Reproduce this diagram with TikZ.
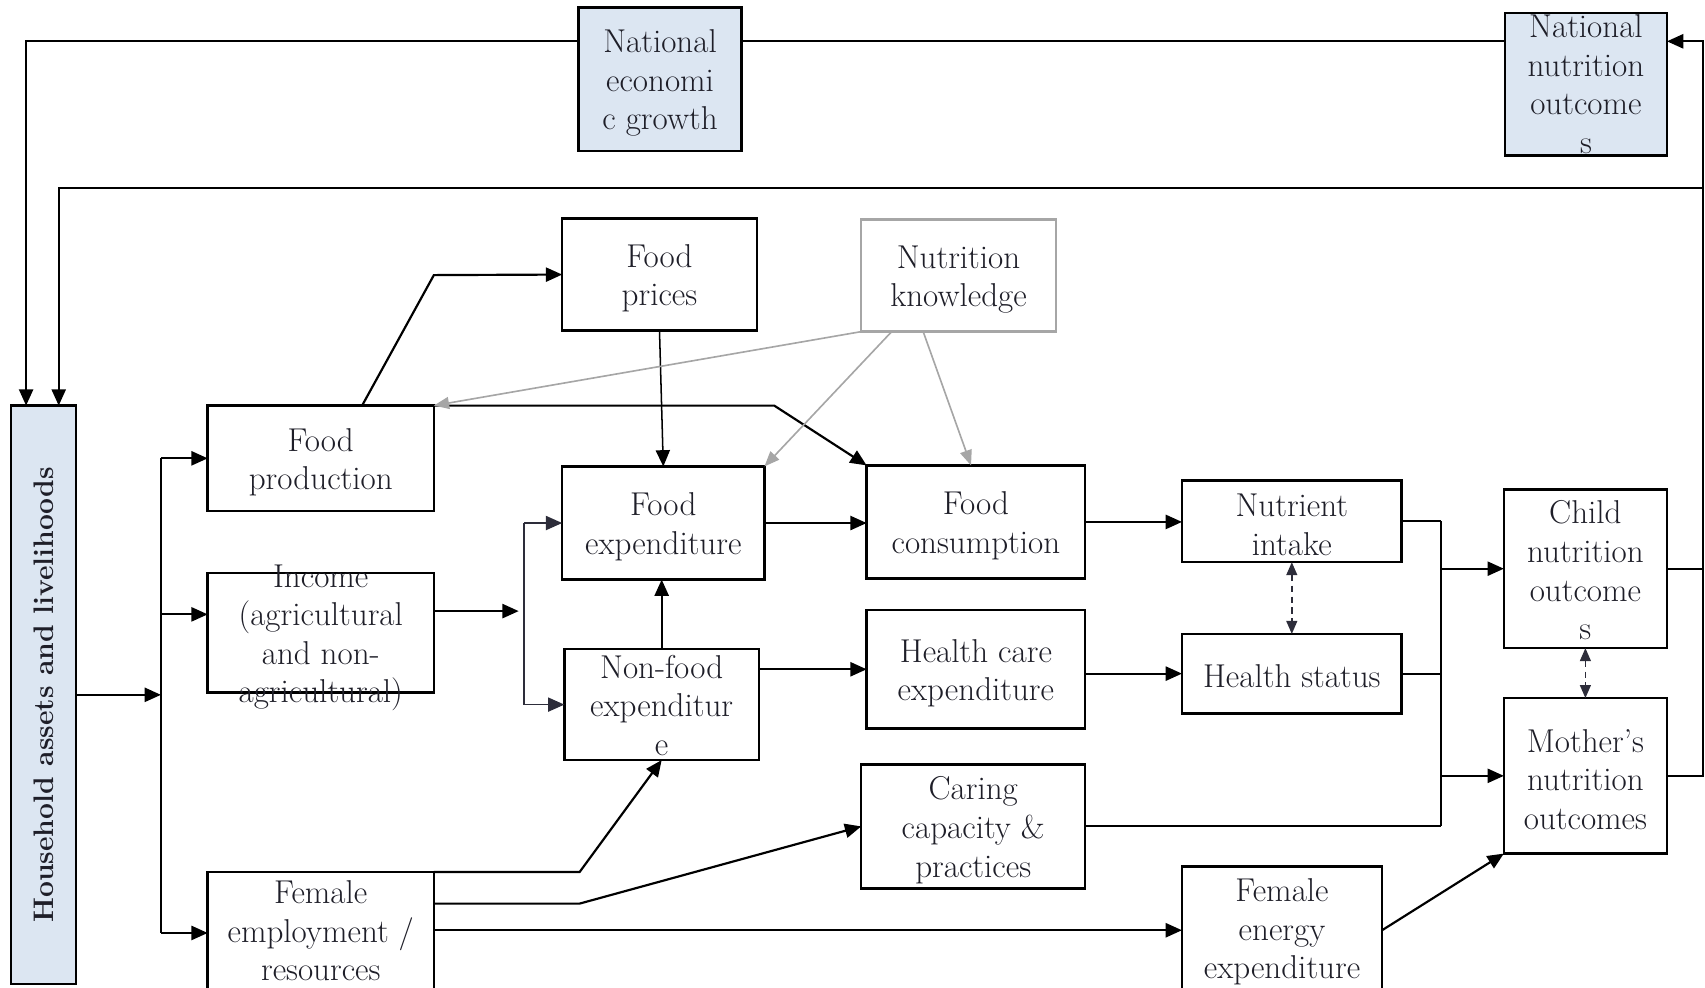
\documentclass[tikz,border=0pt]{standalone}
\usetikzlibrary{arrows.meta,calc}
\definecolor{boxblue}{RGB}{220,230,242}
\definecolor{kgray}{RGB}{166,166,166}
\definecolor{busc}{RGB}{45,45,58}
\definecolor{txtc}{RGB}{30,30,40}
% \BX[style]{name}{x1}{y1}{x2}{y2}{text offset}{text}
\newcommand\BX[8][]{%
  \node[box,#1,minimum width={(#5-#3)*0.02cm},minimum height={(#6-#4)*0.02cm}] (#2) at ({(#3+#5)/2},{(#4+#6)/2}) {};
  \node[txt] (#2-t) at ({(#3+#5)/2},{(#4+#6)/2+(#7)}) {#8};}
\begin{document}
\begin{tikzpicture}[x=0.02cm,y=-0.02cm,
  box/.style={draw,line width=0.045cm,inner sep=0pt,outer sep=0pt},
  bluebox/.style={fill=boxblue},
  graybox/.style={draw=kgray},
  txt/.style={align=center,inner sep=0pt,text=txtc,font=\fontsize{17.3}{20.2}\selectfont},
  ln/.style={line width=0.04cm},
  arr/.style={ln,-{Triangle[length=0.3cm,width=0.26cm]}},
  thinarr/.style={line width=0.028cm,-{Triangle[length=0.3cm,width=0.26cm]}},
  garr/.style={line width=0.03cm,draw=kgray,-{Triangle[length=0.28cm,width=0.22cm]}},
  bus/.style={line width=0.03cm,draw=busc},
  busarr/.style={bus,-{Triangle[length=0.3cm,width=0.26cm]}},
  dbl/.style={line width=0.03cm,draw=busc,dash pattern=on 0.12cm off 0.08cm,{Triangle[length=0.24cm,width=0.2cm]}-{Triangle[length=0.24cm,width=0.2cm]}}]
\useasboundingbox (0,0) rectangle (1568,908);

% boxes
\BX[bluebox]{neg}{532}{7}{682}{139}{3.5}{National\\economi\\c growth}
\BX[bluebox]{nno}{1384}{12}{1533}{143}{0}{National\\nutrition\\outcome\\s}
\node[box,bluebox,minimum width={60*0.02cm},minimum height={532*0.02cm}] (hh) at (40,639) {};
\node[rotate=90,inner sep=0pt,text=txtc,font=\fontsize{14.8}{17}\selectfont\bfseries] (hh-t) at (hh.center) {Household assets and livelihoods};
\BX{fprices}{517}{201}{696}{304}{3.5}{Food\\prices}
\BX[graybox]{nk}{792}{202}{971}{305}{3.5}{Nutrition\\knowledge}
\BX{fprod}{191}{373}{399}{470}{3.5}{Food\\production}
\BX{inc}{191}{527}{399}{637}{4.5}{Income\\(agricultural\\and non-\\agricultural)}
\BX{fexp}{517}{429}{703}{533}{3.5}{Food\\expenditure}
\BX{nfexp}{519}{597}{698}{699}{0.5}{Non-food\\expenditur\\e}
\BX{femp}{191}{802}{399}{914}{-2}{Female\\employment /\\resources}
\BX{fcons}{797}{428}{998}{532}{3.5}{Food\\consumption}
\BX{hc}{797}{561}{998}{670}{3.5}{Health care\\expenditure}
\BX{care}{792}{703}{998}{817}{3.5}{Caring\\capacity \&\\practices}
\BX{ni}{1087}{442}{1289}{517}{3}{Nutrient\\intake}
\BX{hs}{1087}{583}{1289}{656}{2}{Health status}
\BX{fee}{1087}{797}{1271}{914}{1.5}{Female\\energy\\expenditure}
\BX{child}{1383}{450}{1533}{596}{1.5}{Child\\nutrition\\outcome\\s}
\BX{mother}{1383}{642}{1533}{785}{3.5}{Mother’s\\nutrition\\outcomes}

% helper coordinates
\coordinate (yt) at (0,38);
\coordinate (ym) at (0,173);
\coordinate (xa) at (24,0);
\coordinate (xb) at (54,0);
\coordinate (xr) at (1566,0);
\coordinate (xbus) at (148,0);
\coordinate (yinc) at (0,565);
\coordinate (xp) at (333,0);
\coordinate (c1) at (399,253);
\coordinate (c2) at (712,373);
\coordinate (yio) at (0,562);
\coordinate (xio) at (477,0);
\coordinate (xb2) at (482,0);
\coordinate (xc) at (1325,0);
\coordinate (xg) at (893,0);
\coordinate (c3) at (533,802);
\coordinate (c4) at (533,831);
\coordinate (yf2) at (0,831);

% feedback loops
\draw[ln] (nno.west |- yt) -- (neg.east |- yt);
\draw[arr] (neg.west |- yt) -| (hh.north -| xa);
\draw[ln] (child.east) -- (child.east -| xr);
\draw[arr] (mother.east) -| (xr |- yt) -- (nno.east |- yt);
\draw[arr] (xr |- ym) -| (hh.north -| xb);

% household bus
\draw[arr] (hh.east) -- (hh.east -| xbus);
\draw[ln] (xbus |- fprod.west) -- (xbus |- femp.west);
\draw[arr] (xbus |- fprod.west) -- (fprod.west);
\draw[arr] (xbus |- yinc) -- (inc.west |- yinc);
\draw[arr] (xbus |- femp.west) -- (femp.west);

% food production
\draw[arr] (fprod.north -| xp) -- (c1) -- (fprices.west);
\draw[arr] (fprod.north east) -- (c2) -- (fcons.north west);
\draw[thinarr] (fprices.south) -- (fexp.north);

% nutrition knowledge
\draw[garr] (nk.south west) -- (fprod.north east);
\draw[garr] ($(nk.south west)+(28,0)$) -- (fexp.north east);
\draw[garr] ($(nk.south west)+(57,0)$) -- (fcons.north -| xg);

% income
\draw[arr] (inc.east |- yio) -- (xio |- yio);
\draw[bus] (xb2 |- fexp.west) -- (xb2 |- nfexp.west);
\draw[busarr] (xb2 |- fexp.west) -- (fexp.west);
\draw[busarr] (xb2 |- nfexp.west) -- (nfexp.west);

% expenditures
\draw[arr] (fexp.east) -- (fexp.east -| fcons.west);
\draw[arr] (nfexp.north) -- (nfexp.north |- fexp.south);
\draw[arr] (nfexp.east |- hc.west) -- (hc.west);
\draw[arr] (fcons.east) -- (fcons.east -| ni.west);
\draw[arr] (hc.east |- hs.west) -- (hs.west);
\draw[dbl] (ni.south) -- (hs.north);

% to outcomes
\draw[ln] (ni.east) -- (ni.east -| xc);
\draw[ln] (hs.east) -- (hs.east -| xc);
\draw[ln] (care.east) -- (care.east -| xc);
\draw[ln] (xc |- ni.east) -- (xc |- care.east);
\draw[arr] (xc |- child.west) -- (child.west);
\draw[arr] (xc |- mother.west) -- (mother.west);
\draw[dbl] (child.south) -- (mother.north);

% female employment
\draw[arr] (femp.north east) -- (c3) -- (nfexp.south);
\draw[arr] (femp.east |- yf2) -- (c4) -- (care.west);
\draw[arr] (femp.east |- fee.west) -- (fee.west);
\draw[arr] (fee.east) -- (mother.south west);
\end{tikzpicture}
\end{document}
